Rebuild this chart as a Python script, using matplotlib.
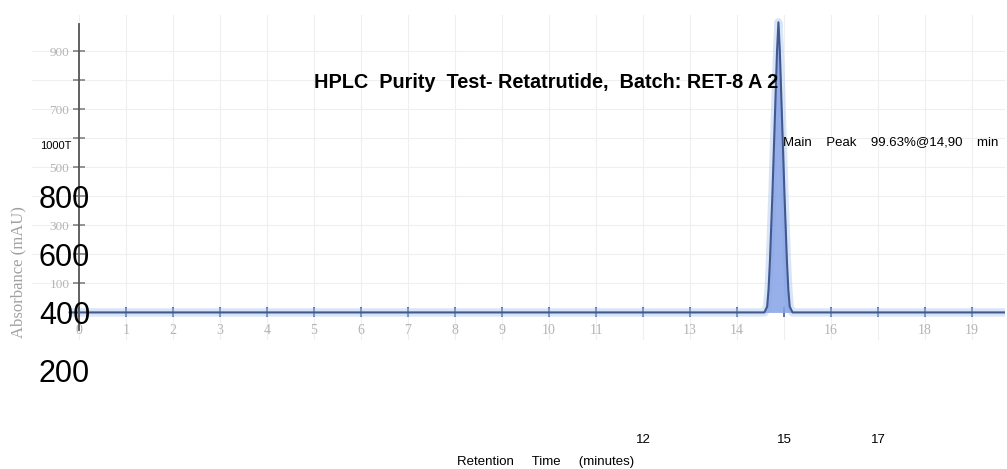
import matplotlib
matplotlib.use('Agg')
import matplotlib.pyplot as plt
import matplotlib.transforms as mtransforms

# Chromatogram trace (retention time in min, absorbance in mAU)
trace_t = [-0.2, 14.58, 14.64, 14.67, 14.70, 14.75, 14.80, 14.85, 14.88,
           14.91, 14.96, 15.01, 15.06, 15.09, 15.12, 15.18, 19.7]
trace_a = [0, 0, 20, 80, 180, 400, 650, 900, 1000,
           900, 650, 400, 180, 80, 20, 0, 0]

# Faint original tick labels
x_ticks = list(range(0, 20))
x_labels = [str(v) if v not in (12, 15, 17) else '' for v in x_ticks]
y_major = [100, 300, 500, 700, 900]
y_minor = [200, 400, 600, 800]

# Overlaid (re-typed) labels
big_y_vals = [200, 400, 600, 800]
big_y_offset = 400
bottom_vals = [12, 15, 17]

title = 'HPLC  Purity  Test- Retatrutide,  Batch: RET-8 A 2'
peak_note = 'Main    Peak    99.63%@14,90    min'

W, H = 1007, 469
fig = plt.figure(figsize=(W / 100, H / 100), dpi=100)

# main chromatogram axes, placed in pixels
left_px, right_px, top_px, bot_px = 32, 1005, 15, 340
ax = fig.add_axes([left_px / W, 1 - bot_px / H, (right_px - left_px) / W, (bot_px - top_px) / H])
ax.set_xlim(-1, 19.7)
ax.set_ylim(-95, 1025)

ax.grid(True, which='both', color='#efefef', lw=0.8)
ax.set_axisbelow(True)

# baseline halo + trace
ax.plot(trace_t, trace_a, color='#a9c6ee', lw=6, alpha=0.45, solid_capstyle='butt', zorder=2)
ax.fill_between(trace_t, trace_a, 0, color='#86a3e6', alpha=0.85, lw=0, zorder=3)
ax.plot(trace_t, trace_a, color='#42588f', lw=1.5, zorder=4)

for s in ['top', 'right']:
    ax.spines[s].set_visible(False)
ax.spines['left'].set_position(('data', 0))
ax.spines['left'].set_color('#555555')
ax.spines['left'].set_linewidth(1.3)
ax.spines['left'].set_bounds(-60, 995)
ax.spines['bottom'].set_position(('data', 0))
ax.spines['bottom'].set_visible(False)

ax.set_xticks(x_ticks)
ax.set_xticklabels(x_labels, family='Liberation Serif', fontsize=10, color='#b4b4b4')
ax.tick_params(axis='x', direction='inout', length=7, width=1.2, color='#4a5e92', pad=5)
ax.set_yticks(y_major)
ax.set_yticks(y_minor, minor=True)
ax.set_yticklabels([str(v) for v in y_major], family='Liberation Serif', fontsize=9.5, color='#b4b4b4')
ax.tick_params(axis='y', which='both', direction='inout', length=8, width=1.1, color='#777777', pad=3)

# overlaid big y labels on an offset scale
y_per_px = (1025 + 95) / (bot_px - top_px)
ax2_left = 90
ax2 = fig.add_axes([ax2_left / W, 0, 0.001, 1 - top_px / H])
ax2.set_ylim(-95 + big_y_offset - (H - bot_px) * y_per_px, 1025 + big_y_offset)
ax2.patch.set_visible(False)
for s in ax2.spines.values():
    s.set_visible(False)
ax2.set_xticks([])
ax2.set_yticks(big_y_vals)
ax2.set_yticklabels([str(v) for v in big_y_vals], family='Liberation Sans', fontsize=22, color='black')
ax2.tick_params(axis='y', length=0, pad=0)

ax.text(-0.15, 574, '1000T', ha='right', va='center', family='Liberation Sans', fontsize=8)

# title and annotation
fig.text(546 / W, 1 - 82 / H, title, ha='center', va='center',
         family='Liberation Sans', fontweight='bold', fontsize=14.3)
ax.text(14.98, 588, peak_note, ha='left', va='center', family='Liberation Sans', fontsize=9.5)

# re-typed x labels below the chart
blend = mtransforms.blended_transform_factory(ax.transData, fig.transFigure)
for v in bottom_vals:
    ax.text(v, 1 - 440 / H, str(v), transform=blend, ha='center', va='center',
            family='Liberation Sans', fontsize=9.5)
fig.text(546 / W, 1 - 462 / H, 'Retention     Time     (minutes)', ha='center', va='center',
         family='Liberation Sans', fontsize=9.5)
fig.text(18 / W, 1 - 272 / H, 'Absorbance (mAU)', rotation=90, ha='center', va='center',
         family='Liberation Serif', fontsize=12, color='#a0a0a0')

fig.savefig('out.png', dpi=100)
